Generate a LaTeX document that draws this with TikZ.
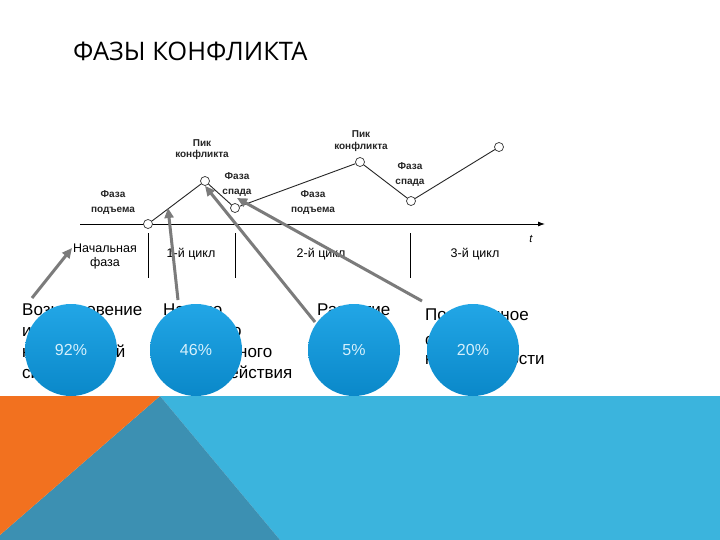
\documentclass[tikz,border=0pt]{standalone}
\usepackage{fontspec}
\setmainfont{Liberation Sans}
\newfontfamily\titlefont{Open Sans}
\usetikzlibrary{arrows.meta}
\definecolor{orng}{HTML}{F2711F}
\definecolor{tealdk}{HTML}{3C90B2}
\definecolor{bluelt}{HTML}{3BB4DD}
\definecolor{circtop}{HTML}{22A6E6}
\definecolor{circbot}{HTML}{0A88C9}
\definecolor{pct}{HTML}{D6F0FC}
\definecolor{arrg}{HTML}{7B7B7B}
\tikzset{
  lbl/.style={font=\bfseries\fontsize{10}{12}\selectfont, text=black!85, inner sep=0pt, anchor=base},
  lblb/.style={font=\fontsize{12.5}{15}\selectfont, text=black, inner sep=0pt, anchor=base},
  body/.style={font=\fontsize{17}{20}\selectfont, text=black, inner sep=0pt, anchor=base west},
  ptc/.style={circle, draw=black!80, fill=white, line width=0.7pt, minimum size=9pt, inner sep=0pt},
  curve/.style={draw=black!85, line width=0.9pt},
  tickline/.style={draw=black, line width=0.9pt},
  axisline/.style={draw=black, line width=0.9pt, -{Latex[length=7pt,width=5pt]}},
  pointer/.style={draw=arrg, line width=3pt, -{Triangle[length=10pt,width=9pt]}},
  pctc/.style={circle, minimum size=92pt, inner sep=0pt, top color=circtop, bottom color=circbot, text=pct, font=\fontsize{16}{18}\selectfont}
}
\begin{document}
\begin{tikzpicture}[x=1pt,y=-1pt]
\useasboundingbox (0,0) rectangle (720,540);
\fill[white] (0,0) rectangle (720,540);

% bottom band
\fill[bluelt] (160,396) -- (720,396) -- (720,540) -- (280,540) -- cycle;
\fill[tealdk] (160,396) -- (280,540) -- (0,540) -- (0,535) -- cycle;
\fill[orng] (0,396) -- (160,396) -- (0,535) -- cycle;

% title
\node[font=\titlefont\fontsize{25.5}{30}\selectfont, inner sep=0pt, anchor=base west] (ttl) at (73,61) {ФАЗЫ КОНФЛИКТА};

% axis and ticks
\coordinate (ax0) at (80,224);
\coordinate (ax1) at (545,224);
\draw[axisline] (ax0) -- (ax1);
\coordinate (t1a) at (148,233); \coordinate (t1b) at (148,278);
\coordinate (t2a) at (235,233); \coordinate (t2b) at (235,278);
\coordinate (t3a) at (410,233); \coordinate (t3b) at (410,278);
\draw[tickline] (t1a) -- (t1b);
\draw[tickline] (t2a) -- (t2b);
\draw[tickline] (t3a) -- (t3b);
\node[font=\itshape\fontsize{11}{13}\selectfont, inner sep=0pt, anchor=base] (tl) at (531,243) {t};

% chart points
\node[ptc] (p0) at (148,224) {};
\node[ptc] (p1) at (205,181) {};
\node[ptc] (p2) at (235,208) {};
\node[ptc] (p3) at (360,162) {};
\node[ptc] (p4) at (411,201) {};
\node[ptc] (p5) at (499,147) {};
\draw[curve] (p0) -- (p1);
\draw[curve] (p1) -- (p2);
\draw[curve] (p2) -- (p3);
\draw[curve] (p3) -- (p4);
\draw[curve] (p4) -- (p5);

% chart labels
\node[lbl] (pk1a) at (202,147) {Пик};
\node[lbl] (pk1b) at (202,158) {конфликта};
\node[lbl] (sp1a) at (237,180) {Фаза};
\node[lbl] (sp1b) at (237,195) {спада};
\node[lbl] (pd1a) at (113,197) {Фаза};
\node[lbl] (pd1b) at (113,212) {подъема};
\node[lbl] (pk2a) at (361,138) {Пик};
\node[lbl] (pk2b) at (361,150) {конфликта};
\node[lbl] (sp2a) at (410,170) {Фаза};
\node[lbl] (sp2b) at (410,185) {спада};
\node[lbl] (pd2a) at (313,197) {Фаза};
\node[lbl] (pd2b) at (313,212) {подъема};
\node[lblb] (nfa) at (105,252) {Начальная};
\node[lblb] (nfb) at (105,266) {фаза};
\node[lblb] (cy1) at (191,257) {1-й цикл};
\node[lblb] (cy2) at (321,258) {2-й цикл};
\node[lblb] (cy3) at (475,258) {3-й цикл};

% bottom texts
\node[body] (a1) at (22,315) {Возникновение};
\node[body] (a2) at (22,336) {и развитие};
\node[body] (a3) at (22,357) {конфликтной};
\node[body] (a4) at (22,378) {ситуации};
\node[body] (b1) at (163,315) {Начало};
\node[body] (b2) at (163,336) {открытого};
\node[body] (b3) at (163,357) {конфликтного};
\node[body] (b4) at (163,378) {взаимодействия};
\node[body] (c1t) at (317,315) {Развитие};
\node[body] (d1) at (425,320) {Постепенное};
\node[body] (d2) at (425,345) {снижение};
\node[body] (d3) at (425,364) {конфликтности};

% pointers
\coordinate (s1) at (32,298);
\coordinate (e1) at (72,248);
\coordinate (s2) at (178,300);
\coordinate (e2) at (168,208);
\coordinate (s3) at (315,322);
\coordinate (s4) at (422,301);
\coordinate (e4) at (237,198);
\draw[pointer] (s1) -- (e1);
\draw[pointer] (s2) -- (e2);
\draw[pointer] (s3) -- (p1.south);
\draw[pointer] (s4) -- (e4);

% percentage circles
\node[pctc] (k1) at (71,350) {92\%};
\node[pctc] (k2) at (196,350) {46\%};
\node[pctc] (k3) at (354,350) {5\%};
\node[pctc] (k4) at (473,350) {20\%};
\end{tikzpicture}
\end{document}
